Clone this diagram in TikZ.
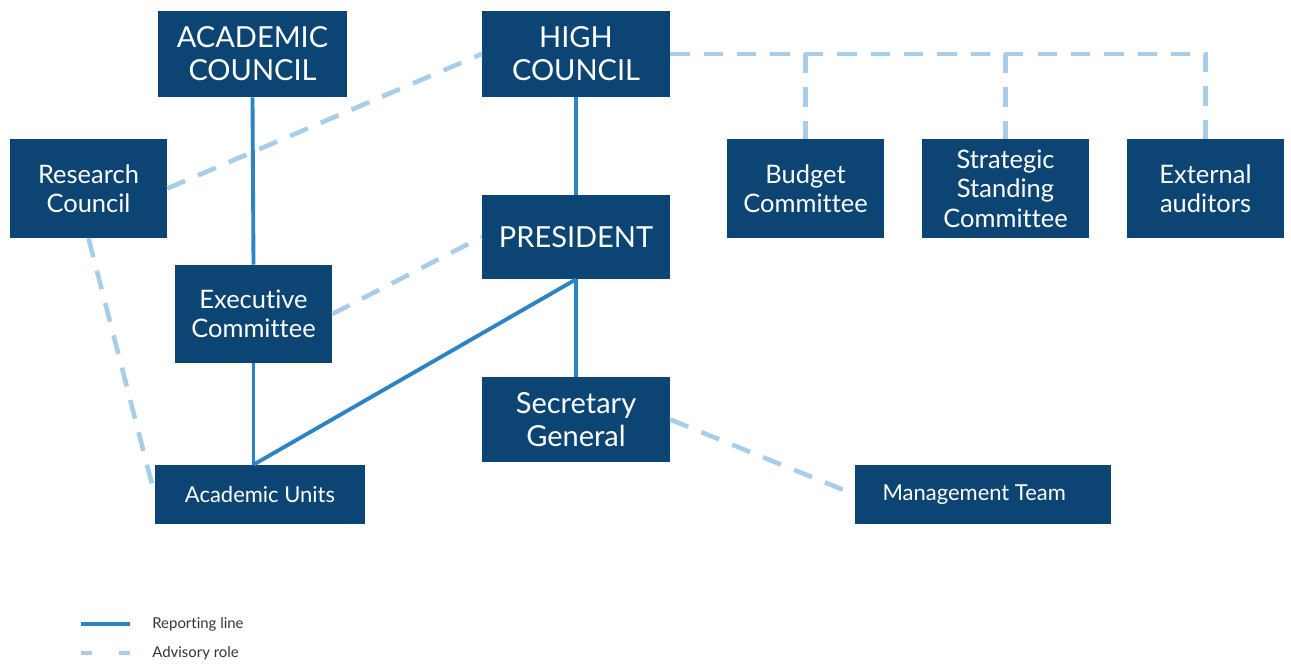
\documentclass[tikz,border=0pt]{standalone}
\usepackage{fontspec}
\setmainfont{Lato}[Ligatures=NoCommon]
\usepackage{tikz}

\definecolor{boxblue}{HTML}{0C4573}
\definecolor{lineblue}{HTML}{2A84C6}
\definecolor{advblue}{HTML}{A7CDE8}

\tikzset{
  unit/.style={rectangle, fill=boxblue, text=white, align=center, inner sep=0pt},
  bigunit/.style={unit, font=\fontsize{16.5}{18.7}\selectfont},
  midunit/.style={unit, font=\fontsize{14.5}{16.8}\selectfont},
  smallunit/.style={unit, font=\fontsize{12.5}{15}\selectfont},
  report/.style={draw=lineblue, line width=2.2pt},
  advise/.style={draw=advblue, line width=2.6pt, dash pattern=on 11pt off 8pt},
  legendtext/.style={anchor=west, inner sep=0pt, font=\fontsize{8.5}{10}\selectfont, text=black!80}
}

\begin{document}
\begin{tikzpicture}[x=0.02cm, y=-0.02cm]
\useasboundingbox (0,0) rectangle (1291,664);
%councils
\node[bigunit, minimum width=3.78cm, minimum height=1.72cm] (ac) at (252.5,54) {ACADEMIC\\COUNCIL};
\node[bigunit, minimum width=3.76cm, minimum height=1.72cm] (hc) at (576,54) {HIGH\\COUNCIL};
\node[midunit, minimum width=3.14cm, minimum height=1.98cm] (rc) at (88.5,188.5) {Research\\Council};
%committees of the high council
\node[midunit, minimum width=3.14cm, minimum height=1.98cm] (bc) at (805.5,188.5) {Budget\\Committee};
\node[midunit, minimum width=3.34cm, minimum height=1.98cm] (ssc) at (1005.5,188.5) {Strategic\\Standing\\Committee};
\node[midunit, minimum width=3.14cm, minimum height=1.98cm] (ea) at (1205.5,188.5) {External\\auditors};
%executive
\node[bigunit, minimum width=3.76cm, minimum height=1.68cm] (pr) at (576,237) {PRESIDENT};
\node[midunit, minimum width=3.14cm, minimum height=1.96cm] (ec) at (253.5,314) {Executive\\Committee};
\node[bigunit, minimum width=3.76cm, minimum height=1.70cm] (sg) at (576,419.5) {Secretary\\General};
\node[smallunit, minimum width=4.2cm, minimum height=1.18cm] (au) at (260,494.5) {Academic Units};
\node[smallunit, minimum width=5.12cm, minimum height=1.18cm] (mt) at (983,494.5) {Management Team\hspace{10pt}};
%reporting lines
\coordinate (aujoin) at (ec.south |- au.north);
\draw[report] (ac.south) -- (ec.north);
\draw[report] (ec.south) -- (aujoin);
\draw[report] (aujoin) -- (pr.south);
\draw[report] (hc.south) -- (pr.north);
\draw[report] (pr.south) -- (sg.north);
%advisory roles
\draw[advise] (rc.east) -- (hc.west);
\draw[advise] (ec.east) -- (pr.west);
\draw[advise] (rc.south) -- (au.west);
\draw[advise] (sg.east) -- (mt.west);
\draw[advise] (hc.east) -- (ea.north |- hc.east) -- (ea.north);
\draw[advise] (bc.north |- hc.east) -- (bc.north);
\draw[advise] (ssc.north |- hc.east) -- (ssc.north);
%legend
\coordinate (repa) at (81,624);
\coordinate (repb) at (130,624);
\coordinate (adva) at (81,653);
\coordinate (advb) at (130,653);
\draw[report, line width=2.6pt] (repa) -- (repb);
\draw[advise, dash pattern=on 6.5pt off 15pt] (adva) -- (advb);
\node[legendtext] (replabel) at (152,624) {Reporting line};
\node[legendtext] (advlabel) at (152,653) {Advisory role};
\end{tikzpicture}
\end{document}
